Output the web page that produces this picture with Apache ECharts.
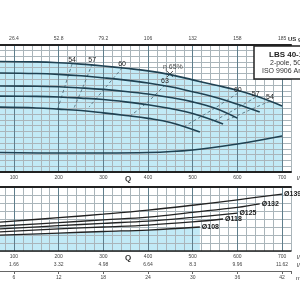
<!DOCTYPE html>
<html>
<head>
<meta charset="utf-8">
<script src="https://cdn.jsdelivr.net/npm/echarts@6.0.0/dist/echarts.min.js"></script>
<style>
  html, body { margin: 0; padding: 0; background: #fff; }
  #chart { width: 300px; height: 300px; }
</style>
</head>
<body>
<div id="chart"></div>
<script>
// flow ticks (l/min) and the labels of the other flow units
var qTicks = [100, 200, 300, 400, 500, 600, 700];
var gpmLabels = ['26.4', '52.8', '79.2', '106', '132', '158', '185'];
var lsLabels = ['1.66', '3.32', '4.98', '6.64', '8.3', '9.96', '11.62'];
var m3hLabels = ['6', '12', '18', '24', '30', '36', '42'];

// head curves, [Q l/min, H m]
var head139 = [[60, 19.07], [150, 19.0], [200, 18.86], [250, 18.62], [300, 18.29], [350, 17.9], [400, 17.45], [450, 16.8], [500, 15.9], [550, 15.0], [600, 14.1], [650, 12.9], [700, 11.4]];
var head132 = [[60, 17.1], [150, 17.0], [200, 16.85], [250, 16.6], [300, 16.25], [350, 15.85], [400, 15.35], [450, 14.7], [500, 13.85], [550, 12.9], [600, 11.7], [650, 10.35]];
var head125 = [[60, 14.85], [150, 14.8], [200, 14.7], [250, 14.5], [300, 14.25], [350, 13.9], [400, 13.45], [450, 12.85], [500, 12.1], [550, 11.0], [600, 9.3]];
var head118 = [[60, 13.1], [150, 13.05], [200, 12.95], [250, 12.75], [300, 12.5], [350, 12.1], [400, 11.6], [450, 10.95], [500, 10.1], [568, 8.3]];
var head108 = [[60, 11.2], [150, 11.05], [200, 10.85], [250, 10.6], [300, 10.2], [350, 9.75], [400, 9.25], [450, 8.55], [516, 6.9]];
var npsh = [[60, 3.36], [200, 3.28], [300, 3.28], [400, 3.36], [500, 3.8], [600, 4.83], [700, 6.21]];

// iso-efficiency lines (%)
var effNames = ['54', '57', '60', '63', '60', '57', '54'];
var effLines = [
  [[230, 18.64], [214, 14.8], [198, 10.9]],
  [[275, 18.64], [255, 14.8], [234, 11.0]],
  [[342, 17.95], [305, 14.6], [268, 11.2]],
  [[438, 15.0], [398, 12.0], [360, 9.66]],
  [[601, 13.6], [545, 10.8], [483, 7.95]],
  [[641, 12.9], [592, 10.7], [543, 8.6]],
  [[673, 12.25], [622, 10.5], [572, 8.8]]
];
var bep = [[449, 16.9]];

// power curves, [Q l/min, P kW]
var pow139 = [[60, 1.79], [200, 2.08], [300, 2.3], [400, 2.55], [500, 2.86], [600, 3.2], [700, 3.56]];
var pow132 = [[60, 1.55], [200, 1.77], [300, 1.95], [400, 2.12], [500, 2.42], [600, 2.73], [650, 2.95]];
var pow125 = [[60, 1.37], [200, 1.58], [300, 1.73], [400, 1.87], [500, 2.1], [600, 2.37]];
var pow118 = [[60, 1.18], [200, 1.38], [300, 1.5], [400, 1.62], [500, 1.82], [568, 2.0]];
var pow108 = [[60, 0.98], [200, 1.12], [300, 1.22], [400, 1.31], [516, 1.5]];
var powNames = ['Ø139', 'Ø132', 'Ø125', 'Ø118', 'Ø108'];

var chart = echarts.init(document.getElementById('chart'));

var lbl = { fontFamily: 'Liberation Sans', fontSize: 5, color: '#444' };
var major = '#5f7e8c', minor = '#aab5ba';

function tickText(list) {
  return function (v) {
    var i = qTicks.indexOf(v);
    return i < 0 ? '' : list[i];
  };
}

function xAx(grid, pos, extra) {
  return Object.assign({
    type: 'value', gridIndex: grid, position: pos, min: 0, max: 720, interval: 100,
    axisLine: { show: false }, axisTick: { show: false }, axisLabel: { show: false },
    splitLine: { show: false }
  }, extra);
}

var gridLines = {
  show: true,
  lineStyle: { color: [major, minor, minor, minor, minor], width: 1 }
};

var xAxes = [
  // top panel, bottom labels + vertical grid
  xAx(0, 'bottom', {
    interval: 20,
    axisLine: { show: true, onZero: false, lineStyle: { color: '#222', width: 2 } },
    axisLabel: Object.assign({ show: true, margin: 3.5, formatter: tickText(qTicks.map(String)) }, lbl),
    splitLine: gridLines
  }),
  // top panel, US gpm labels
  xAx(0, 'top', {
    axisLine: { show: true, onZero: false, lineStyle: { color: '#222', width: 2 } },
    axisLabel: Object.assign({ show: true, margin: 3, formatter: tickText(gpmLabels) }, lbl)
  }),
  // lower panel, l/min
  xAx(1, 'bottom', {
    interval: 20,
    axisLine: { show: true, onZero: false, lineStyle: { color: '#222', width: 1.5 } },
    axisLabel: Object.assign({ show: true, margin: 3.5, formatter: tickText(qTicks.map(String)) }, lbl),
    splitLine: gridLines
  }),
  xAx(1, 'top', {
    axisLine: { show: true, onZero: false, lineStyle: { color: '#222', width: 2 } }
  }),
  // l/s
  xAx(1, 'bottom', {
    offset: 8,
    axisLabel: Object.assign({ show: true, margin: 3.5, formatter: tickText(lsLabels) }, lbl)
  }),
  // m3/h
  xAx(1, 'bottom', {
    offset: 20,
    axisLine: { show: true, onZero: false, lineStyle: { color: '#666', width: 1 } },
    axisTick: { show: true, length: 3, lineStyle: { color: '#666' } },
    axisLabel: Object.assign({ show: true, margin: 4.5, formatter: tickText(m3hLabels) }, lbl)
  })
];

var yAxes = [
  { type: 'value', gridIndex: 0, min: 0, max: 22, interval: 1, axisLabel: { show: false },
    axisLine: { show: false }, axisTick: { show: false },
    splitLine: { lineStyle: { color: minor, width: 1 } } },
  { type: 'value', gridIndex: 1, min: 0, max: 4, interval: 0.5, axisLabel: { show: false },
    axisLine: { show: false }, axisTick: { show: false },
    splitLine: { lineStyle: { color: minor, width: 1 } } }
];

function curve(data, xi, yi, color, width, extra) {
  return Object.assign({
    type: 'line', data: data, xAxisIndex: xi, yAxisIndex: yi, smooth: 0.4,
    showSymbol: false, symbol: 'none', silent: true, animation: false,
    lineStyle: { color: color, width: width }
  }, extra);
}

var headColor = '#1f4152';
var series = [
  // blue operating area
  curve(head139, 0, 0, headColor, 0, { z: -1, areaStyle: { color: '#c2eaf6', opacity: 1 } }),
  curve(pow108, 2, 1, '#222', 0, { z: -1, areaStyle: { color: '#c2eaf6', opacity: 1 } })
];

effLines.forEach(function (pts, i) {
  var data = pts.map(function (p, j) {
    if (j > 0) return p;
    return { value: p, label: { show: true, position: 'top', distance: 0, formatter: effNames[i],
      fontFamily: 'Liberation Sans', fontSize: 7, color: '#222' } };
  });
  series.push(curve(data, 0, 0, '#53707e', 0.9, {
    smooth: 0.3, showSymbol: true, symbol: 'circle', symbolSize: 0.1,
    itemStyle: { color: 'rgba(0,0,0,0)' },
    labelLayout: { hideOverlap: false },
    lineStyle: { color: '#53707e', width: 0.9, type: [3, 2.5] }
  }));
});

[head139, head132, head125, head118, head108].forEach(function (d) {
  series.push(curve(d, 0, 0, headColor, 1.6));
});
series.push(curve(npsh, 0, 0, headColor, 1.5));

series.push({
  type: 'scatter', xAxisIndex: 0, yAxisIndex: 0, data: bep, silent: true, animation: false,
  symbol: 'path://M0,0L10,10M10,0L0,10', symbolSize: 6,
  itemStyle: { color: 'none', borderColor: '#222', borderWidth: 1 },
  label: { show: true, position: 'top', distance: 0, offset: [3, 2], formatter: 'η 65%',
    fontFamily: 'Liberation Sans', fontSize: 7, color: '#222' }
});

[pow139, pow132, pow125, pow118, pow108].forEach(function (d, i) {
  series.push(curve(d, 2, 1, '#222', 1.3, {
    endLabel: { show: true, formatter: powNames[i], distance: 2,
      fontFamily: 'Liberation Sans', fontSize: 7, fontWeight: 'bold', color: '#222' }
  }));
});

var unitStyle = { fontFamily: 'Liberation Sans', fontSize: 5, fill: '#444', textVerticalAlign: 'middle' };
function txt(x, y, s, style) {
  return { type: 'text', x: x, y: y, z: 20, silent: true, style: Object.assign({ text: s }, unitStyle, style) };
}

chart.setOption({
  animation: false,
  grid: [
    { left: -30.7, right: 9, top: 44.5, height: 127.5, outerBoundsMode: 'none', containLabel: false },
    { left: -30.7, right: 9, top: 187, height: 64, outerBoundsMode: 'none', containLabel: false }
  ],
  xAxis: xAxes,
  yAxis: yAxes,
  series: series,
  graphic: [
    { type: 'rect', shape: { x: 254, y: 46, width: 70, height: 33 }, z: 10,
      style: { fill: '#fff', stroke: '#222', lineWidth: 1.5 } },
    txt(269, 55, 'LBS 40-125', { fontSize: 8, fontWeight: 'bold', fill: '#222' }),
    txt(270, 63.5, '2-pole, 50 Hz', { fontSize: 7, fill: '#333' }),
    txt(262, 71.5, 'ISO 9906 Annex A', { fontSize: 7, fill: '#333' }),
    txt(288, 39, 'US gpm', { fontSize: 6, fontWeight: 'bold', fill: '#333' }),
    txt(297, 178, 'l/min', { fontSize: 6, fill: '#333' }),
    txt(297, 257, 'l/min', { fontSize: 6, fill: '#333' }),
    txt(297, 265, 'l/s', { fontSize: 6, fill: '#333' }),
    txt(296, 278, 'm³/h', { fontSize: 6, fill: '#333' }),
    txt(125, 178.5, 'Q', { fontSize: 8, fontWeight: 'bold', fill: '#333' }),
    txt(125, 257.5, 'Q', { fontSize: 8, fontWeight: 'bold', fill: '#333' })
  ]
});
</script>
</body>
</html>
